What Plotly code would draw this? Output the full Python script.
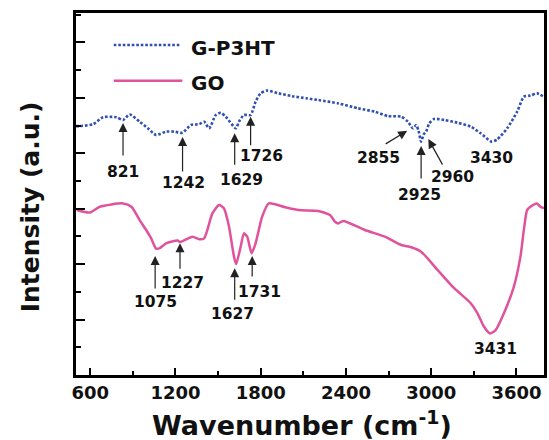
import plotly.graph_objects as go

# ---------------- data ----------------
go_wn = [505, 598, 668, 831, 890, 948, 994, 1029, 1062, 1087, 1134, 1215, 1232, 1320, 1367, 1402,
         1460, 1507, 1542, 1577, 1612, 1627, 1659, 1682, 1705, 1736, 1764, 1810, 1857, 1973, 2066,
         2206, 2288, 2323, 2346, 2381, 2533, 2673, 2789, 2859, 2929, 3045, 3162, 3278, 3325, 3372,
         3414, 3453, 3512, 3582, 3628, 3652, 3675, 3698, 3745, 3768, 3794]
go_int = [5.95, 5.86, 6.07, 6.19, 6.07, 5.59, 5.23, 4.93, 4.57, 4.57, 4.75, 4.85, 4.80, 4.99, 4.90, 4.93,
          5.83, 6.13, 6.01, 5.35, 4.27, 4.00, 4.63, 5.11, 4.99, 4.39, 4.75, 5.71, 6.19, 6.05, 5.95,
          5.92, 5.77, 5.53, 5.47, 5.56, 5.23, 4.99, 4.69, 4.61, 4.45, 3.79, 3.13, 2.59, 2.23, 1.74,
          1.50, 1.62, 2.23, 3.19, 4.27, 5.23, 5.95, 6.07, 6.19, 6.07, 6.02]

p3ht_wn = [500, 528, 621, 691, 785, 831, 878, 948, 1006, 1064, 1134, 1192, 1250, 1309, 1367, 1402,
           1437, 1484, 1519, 1554, 1625, 1647, 1682, 1729, 1764, 1799, 1845, 1927, 2020, 2125, 2206,
           2346, 2486, 2603, 2696, 2789, 2836, 2871, 2894, 2911, 2929, 2948, 2964, 2987, 3022, 3092,
           3185, 3278, 3348, 3425, 3465, 3535, 3605, 3652, 3698, 3745, 3792]
p3ht_int = [8.98, 8.98, 9.05, 9.30, 9.30, 9.20, 9.40, 9.14, 8.90, 8.66, 8.78, 8.78, 8.74, 9.02, 9.05, 9.14,
            8.90, 9.38, 9.46, 9.32, 8.90, 9.14, 9.38, 9.38, 9.86, 10.16, 10.26, 10.16, 10.06, 9.98, 9.92,
            9.80, 9.62, 9.50, 9.34, 9.32, 9.14, 8.90, 9.02, 8.81, 8.42, 8.69, 8.78, 9.08, 9.24, 9.20,
            9.10, 8.96, 8.72, 8.42, 8.50, 8.90, 9.50, 10.04, 10.08, 10.16, 10.04]

series_names = ["G-P3HT", "GO"]
x_tick_vals = [600, 1200, 1800, 2400, 3000, 3600]
x_tick_text = ["600", "1200", "1800", "2400", "3000", "3600"]

# peak labels: text, arrow tip (x, y), tail offset (px), label position (x, y)
peaks = [
    ("821",  (831, 9.09),  (0, 34),    (831, 7.33)),
    ("1242", (1250, 8.59), (0, 36),    (1255, 6.94)),
    ("1629", (1617, 8.72), (0, 33),    (1666, 7.04)),
    ("1726", (1729, 9.32), (0, 30),    (1803, 7.90)),
    ("2855", (2831, 8.81), (-23, 14),  (2626, 7.82)),
    ("2925", (2929, 8.26), (0, 34),    (2917, 6.49)),
    ("2960", (2980, 8.51), (15, 27),   (3150, 7.13)),
    ("3430", None, None,               (3423, 7.82)),
    ("1075", (1057, 4.29), (0, 34),    (1057, 2.64)),
    ("1227", (1232, 4.75), (0, 27),    (1250, 3.31)),
    ("1627", (1617, 3.85), (0, 33),    (1600, 2.20)),
    ("1731", (1740, 4.29), (0, 22),    (1794, 3.00)),
    ("3431", None, None,               (3453, 0.93)),
]

BLUE = "#2f4fb5"
PINK = "#e0529c"
FONT = "DejaVu Sans"

fig = go.Figure()
fig.add_trace(go.Scatter(x=p3ht_wn, y=p3ht_int, mode="lines", name=series_names[0],
                         line=dict(color=BLUE, width=2.6, dash="2.6px,1.9px", shape="spline", smoothing=0.6),
                         showlegend=False))
fig.add_trace(go.Scatter(x=go_wn, y=go_int, mode="lines", name=series_names[1],
                         line=dict(color=PINK, width=2.5, shape="spline", smoothing=0.6),
                         showlegend=False))

annotations = []
for text, tip, off, pos in peaks:
    if tip is not None:
        annotations.append(dict(x=tip[0], y=tip[1], xref="x", yref="y", text="", showarrow=True,
                                ax=off[0], ay=off[1], arrowhead=2, arrowsize=1.5, arrowwidth=1.2,
                                arrowcolor="#222222", standoff=0, startstandoff=0))
    annotations.append(dict(x=pos[0], y=pos[1], xref="x", yref="y", text=text, showarrow=False,
                            font=dict(family=FONT, size=15.5, color="#111111", weight="bold"),
                            xanchor="center", yanchor="middle"))

# legend (manual)
annotations.append(dict(x=0.242, y=0.903, xref="paper", yref="paper", text=series_names[0],
                        showarrow=False, xanchor="left", yanchor="middle",
                        font=dict(family=FONT, size=20, color="#111111", weight="bold")))
annotations.append(dict(x=0.242, y=0.8066, xref="paper", yref="paper", text=series_names[1],
                        showarrow=False, xanchor="left", yanchor="middle",
                        font=dict(family=FONT, size=20, color="#111111", weight="bold")))
# axis titles
annotations.append(dict(x=0.483, y=-0.1326, xref="paper", yref="paper",
                        text="Wavenumber (cm<sup>-1</sup>)", showarrow=False,
                        xanchor="center", yanchor="middle",
                        font=dict(family=FONT, size=27, color="#111111", weight="bold")))
annotations.append(dict(x=-0.0977, y=0.464, xref="paper", yref="paper",
                        text="Intensity (a.u.)", showarrow=False, textangle=-90,
                        xanchor="center", yanchor="middle",
                        font=dict(family=FONT, size=25, color="#111111", weight="bold")))

shapes = [
    dict(type="line", xref="paper", yref="paper", x0=0.0807, x1=0.2208, y0=0.9116, y1=0.9116,
         line=dict(color=BLUE, width=2.6, dash="2.6px,1.9px")),
    dict(type="line", xref="paper", yref="paper", x0=0.0807, x1=0.2272, y0=0.813, y1=0.813,
         line=dict(color=PINK, width=2.5)),
]

fig.update_layout(
    width=549, height=440,
    margin=dict(l=76, r=2, t=13, b=65),
    paper_bgcolor="white", plot_bgcolor="white",
    annotations=annotations, shapes=shapes,
    showlegend=False,
)
fig.update_xaxes(range=[500, 3794], tickvals=x_tick_vals, ticktext=x_tick_text,
                 ticks="inside", ticklen=7, tickwidth=2, tickcolor="black",
                 minor=dict(ticks="inside", ticklen=4, tickwidth=2, tickcolor="black", dtick=300, tick0=0),
                 showline=True, linewidth=2.6, linecolor="black", mirror=True,
                 showgrid=False, zeroline=False,
                 tickfont=dict(family=FONT, size=18, color="#111111", weight="bold"))
fig.update_yaxes(range=[0, 13.06], dtick=2, tick0=0,
                 ticks="inside", ticklen=9, tickwidth=2, tickcolor="black",
                 minor=dict(ticks="inside", ticklen=5, tickwidth=2, tickcolor="black", dtick=1),
                 showticklabels=False,
                 showline=True, linewidth=2.6, linecolor="black", mirror=True,
                 showgrid=False, zeroline=False)

fig.write_html("out.html")
